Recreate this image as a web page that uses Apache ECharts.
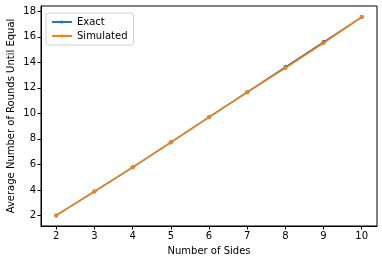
<!DOCTYPE html>
<html><head><meta charset="utf-8">
<script src="https://cdn.jsdelivr.net/npm/echarts@6/dist/echarts.min.js"></script>
<style>html,body{margin:0;padding:0;background:#fff}#c{width:382px;height:263px}</style>
</head><body><div id="c"></div>
<script>
const sides = [2, 3, 4, 5, 6, 7, 8, 9, 10];
const exact = [2.0, 3.88, 5.77, 7.73, 9.70, 11.66, 13.63, 15.59, 17.55];
const simulated = [2.0, 3.87, 5.76, 7.72, 9.69, 11.65, 13.55, 15.51, 17.55];
const xTicks = [2, 3, 4, 5, 6, 7, 8, 9, 10];
const yTicks = [2, 4, 6, 8, 10, 12, 14, 16, 18];

const font = 'DejaVu Sans';
const chart = echarts.init(document.getElementById('c'), null, {renderer: 'canvas'});
chart.setOption({
  animation: false,
  textStyle: {fontFamily: font},
  grid: {left: 41, right: 5, top: 6, bottom: 37, containLabel: false, outerBoundsMode: 'none',
         show: true, borderColor: '#000', borderWidth: 1, backgroundColor: 'transparent'},
  legend: {
    orient: 'vertical', left: 46, top: 13,
    data: ['Exact', 'Simulated'],
    itemWidth: 20, itemHeight: 4, itemGap: 4,
    padding: [4, 6, 4, 5],
    borderColor: '#d0d0d0', borderWidth: 1, borderRadius: 3,
    backgroundColor: 'rgba(255,255,255,0.8)',
    textStyle: {fontFamily: font, fontSize: 10, color: '#000'}
  },
  xAxis: {
    type: 'value', min: 1.6, max: 10.4,
    name: 'Number of Sides', nameLocation: 'middle', nameGap: 20, nameMoveOverlap: false,
    nameTextStyle: {fontFamily: font, fontSize: 10, color: '#000'},
    splitLine: {show: false},
    axisLine: {show: true, lineStyle: {color: '#000', width: 1}},
    axisTick: {show: true, length: 3.5, customValues: xTicks, lineStyle: {color: '#000'}},
    axisLabel: {customValues: xTicks, fontFamily: font, fontSize: 10, color: '#000', margin: 5}
  },
  yAxis: {
    type: 'value', min: 1.17, max: 18.42,
    name: 'Average Number of Rounds Until Equal', nameLocation: 'middle', nameGap: 25, nameMoveOverlap: false,
    nameTextStyle: {fontFamily: font, fontSize: 10, color: '#000'},
    splitLine: {show: false},
    axisLine: {show: true, lineStyle: {color: '#000', width: 1}},
    axisTick: {show: true, length: 3.5, customValues: yTicks, lineStyle: {color: '#000'}},
    axisLabel: {customValues: yTicks, fontFamily: font, fontSize: 10, color: '#000', margin: 5}
  },
  series: [
    {name: 'Exact', type: 'line', data: sides.map((s, i) => [s, exact[i]]),
     color: '#1f77b4', symbol: 'circle', symbolSize: 4, showSymbol: true,
     lineStyle: {width: 1.5}, itemStyle: {color: '#1f77b4'}},
    {name: 'Simulated', type: 'line', data: sides.map((s, i) => [s, simulated[i]]),
     color: '#ff7f0e', symbol: 'circle', symbolSize: 4, showSymbol: true,
     lineStyle: {width: 1.5}, itemStyle: {color: '#ff7f0e'}}
  ]
});
</script></body></html>
